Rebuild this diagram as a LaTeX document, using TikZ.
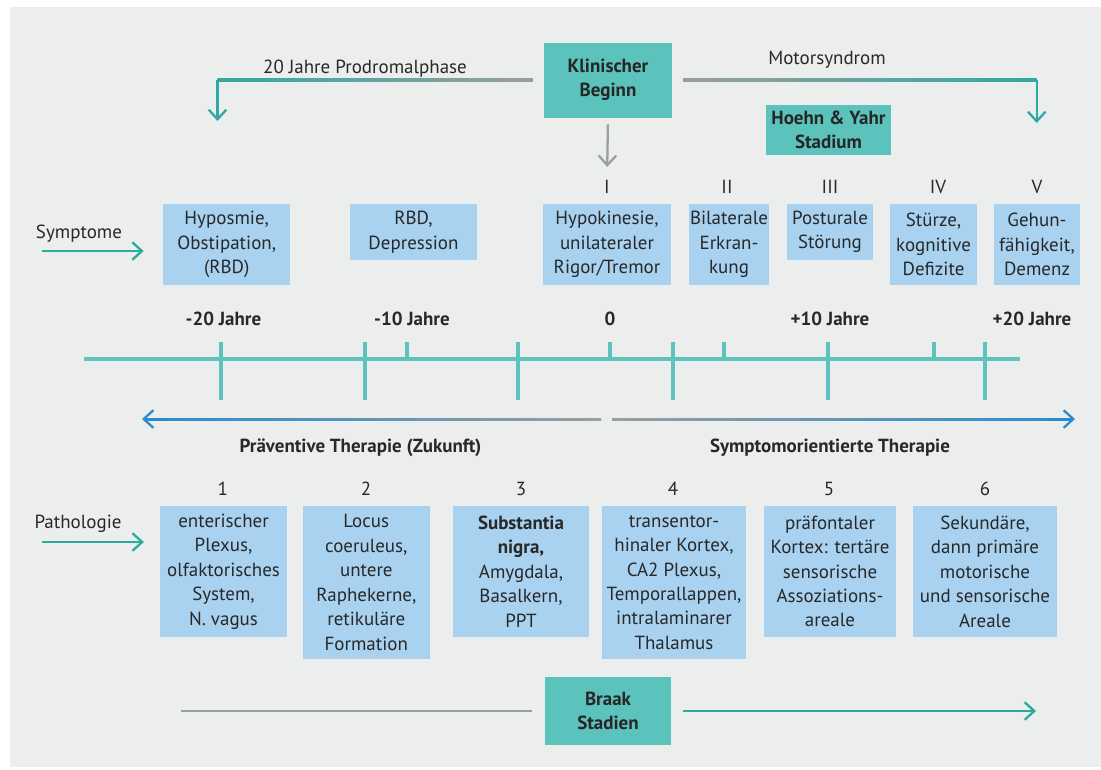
\documentclass[tikz,border=0pt]{standalone}
\usepackage{fontspec}
\setmainfont{PT Sans}
\usetikzlibrary{arrows.meta}
\definecolor{panelgray}{RGB}{236,237,237}
\definecolor{boxteal}{RGB}{91,194,188}
\definecolor{boxblue}{RGB}{168,210,240}
\definecolor{lineteal}{RGB}{92,195,189}
\definecolor{arrteal}{RGB}{45,170,160}
\definecolor{linegray}{RGB}{155,158,160}
\definecolor{arrblue}{RGB}{40,140,205}
\definecolor{txt}{RGB}{40,40,40}
\def\basefont{\fontsize{10.8}{13.9}\selectfont}
\tikzset{
  tbox/.style={fill=boxteal, text=black!85, font=\basefont\bfseries, align=center, inner sep=0pt},
  sbox/.style={fill=boxblue, text=txt, font=\basefont, align=center, inner sep=0pt},
  lbl/.style={text=txt, font=\basefont, inner sep=0pt},
  yearlbl/.style={text=txt, font=\basefont\bfseries, inner sep=0pt},
  axis/.style={lineteal, line width=2pt},
  tip/.style={-{Straight Barb[length=5.5pt,width=10pt]}},
  thin/.style={line width=1.3pt},
}
\begin{document}
\begin{tikzpicture}[x=0.02cm, y=-0.02cm]
			%%%%% START %%%%%
			\useasboundingbox (0,0) rectangle (1101,769);
			\fill[white] (0,0) rectangle (1101,769);
			\fill[panelgray] (9.5,7.3) rectangle (1101,767);
			
			\node[tbox, minimum width=2.56cm, minimum height=1.5cm] (beginn) at (608,80) {Klinischer\\Beginn};
			\node[tbox, minimum width=2.5cm, minimum height=1cm] (hoehn) at (828.5,130) {Hoehn \& Yahr\\Stadium};
			
			\node[lbl, anchor=base] (prodrom) at (365,73) {20 Jahre Prodromalphase};
			\node[lbl, anchor=base] (motor) at (827,64) {Motorsyndrom};
			
			\coordinate (prodromend) at (217.5,121);
			\coordinate (motorend) at (1036.7,123);
			\shade[left color=arrteal, right color=linegray] ([yshift=-0.65pt]prodromend |- beginn.west) rectangle ([xshift=-6.2pt,yshift=0.65pt]beginn.west);
			\draw[arrteal, thin, tip] (prodromend |- beginn.west) -- (prodromend);
			\shade[left color=linegray, right color=arrteal] ([xshift=6.2pt,yshift=-0.65pt]beginn.east) rectangle ([yshift=0.65pt]motorend |- beginn.east);
			\draw[arrteal, thin, tip] (motorend |- beginn.east) -- (motorend);
			
			\foreach \n/\x in {I/607, II/727, III/830, IV/938, V/1037}
				\node[lbl] (num\n) at (\x,187) {\n};
			\draw[linegray, thin, tip, shorten <=3.7pt, shorten >=7.5pt] (beginn.south) -- (numI.north);
			
			% Symptome
			\node[lbl, anchor=base] (symlbl) at (79,238) {Symptome};
			\coordinate (symstart) at (42,251);
			\node[sbox, minimum width=2.55cm, minimum height=1.62cm] (s1) at (226.7,244.5) {Hyposmie,\\Obstipation,\\(RBD)};
			\node[sbox, minimum width=2.54cm, minimum height=1.12cm] (s2) at (413.5,232) {RBD,\\Depression};
			\node[sbox, minimum width=2.56cm, minimum height=1.62cm] (s3) at (607,244.5) {Hypokinesie,\\unilateraler\\Rigor/Tremor};
			\node[sbox, minimum width=1.6cm, minimum height=1.62cm] (s4) at (729,244.5) {Bilaterale\\Erkran-\\kung};
			\node[sbox, minimum width=1.73cm, minimum height=1.12cm] (s5) at (830,232) {Posturale\\Störung};
			\node[sbox, minimum width=1.74cm, minimum height=1.62cm] (s6) at (933.5,244.5) {Stürze,\\kognitive\\Defizite};
			\node[sbox, minimum width=1.73cm, minimum height=1.62cm] (s7) at (1037,244.5) {Gehun-\\fähigkeit,\\Demenz};
			\draw[arrteal, thin, tip, shorten >=10.8pt] (symstart) -- (s1.west |- symstart);
			
			\foreach \x/\t [count=\i] in {223.5/-20 Jahre, 412/-10 Jahre, 610/0, 830/+10 Jahre, 1032/+20 Jahre}
				\node[yearlbl, anchor=base] (yr\i) at (\x,325) {\t};
			
			% Zeitachse
			\draw[axis] (84,359) -- (1020,359);
			\foreach \x in {221,365,518,673,828,985}
				\draw[axis] (\x,342) -- (\x,400);
			\foreach \x in {407,610,724,934}
				\draw[axis] (\x,342) -- (\x,359);
			
			% Therapie
			\coordinate (thl) at (142,419);
			\coordinate (thr) at (1075,419);
			\shade[left color=arrblue, right color=linegray] (146,418) rectangle (601,420);
			\draw[arrblue, thin, tip] (150,419) -- (thl);
			\shade[left color=linegray, right color=arrblue] (612,418) rectangle (1071,420);
			\draw[arrblue, thin, tip] (1067,419) -- (thr);
			\node[yearlbl] (praev) at (360.5,448) {Präventive Therapie (Zukunft)};
			\node[yearlbl] (sympt) at (830,448) {Symptomorientierte Therapie};
			
			% Pathologie
			\foreach \x [count=\i] in {222.7,366,521,673,829,985}
				\node[lbl] (st\i) at (\x,489) {\i};
			\node[lbl, anchor=base] (pathlbl) at (78,528) {Pathologie};
			\coordinate (pathstart) at (42,542);
			\node[sbox, minimum width=2.54cm, minimum height=2.62cm] (p1) at (223.5,571.5) {enterischer\\Plexus,\\olfaktorisches\\System,\\N. vagus};
			\node[sbox, minimum width=2.55cm, minimum height=3.06cm] (p2) at (366.3,582.5) {Locus\\coeruleus,\\untere\\Raphekerne,\\retikuläre\\Formation};
			\node[sbox, minimum width=2.74cm, minimum height=2.62cm] (p3) at (521,571.5) {\textbf{Substantia}\\\textbf{nigra,}\\Amygdala,\\Basalkern,\\PPT};
			\node[sbox, minimum width=2.88cm, minimum height=3.06cm] (p4) at (674,582.5) {transentor-\\hinaler Kortex,\\CA2 Plexus,\\Temporallappen,\\intralaminarer\\Thalamus};
			\node[sbox, minimum width=2.64cm, minimum height=2.62cm] (p5) at (830,571.5) {präfontaler\\Kortex: tertäre\\sensorische\\Assoziations-\\areale};
			\node[sbox, minimum width=2.88cm, minimum height=2.62cm] (p6) at (985,571.5) {Sekundäre,\\dann primäre\\motorische\\und sensorische\\Areale};
			\draw[arrteal, thin, tip, shorten >=9pt] (pathstart) -- (p1.west |- pathstart);
			
			% Braak
			\node[tbox, minimum width=2.54cm, minimum height=1.36cm] (braak) at (608,711) {Braak\\Stadien};
			\coordinate (braakstart) at (181,711);
			\coordinate (braakend) at (1036,711);
			\draw[linegray, thin, shorten >=6.8pt] (braakstart) -- (braak.west);
			\draw[arrteal, thin, tip, shorten <=6.5pt] (braak.east) -- (braakend);
			
			%%%%% END %%%%%
\end{tikzpicture}
\end{document}
